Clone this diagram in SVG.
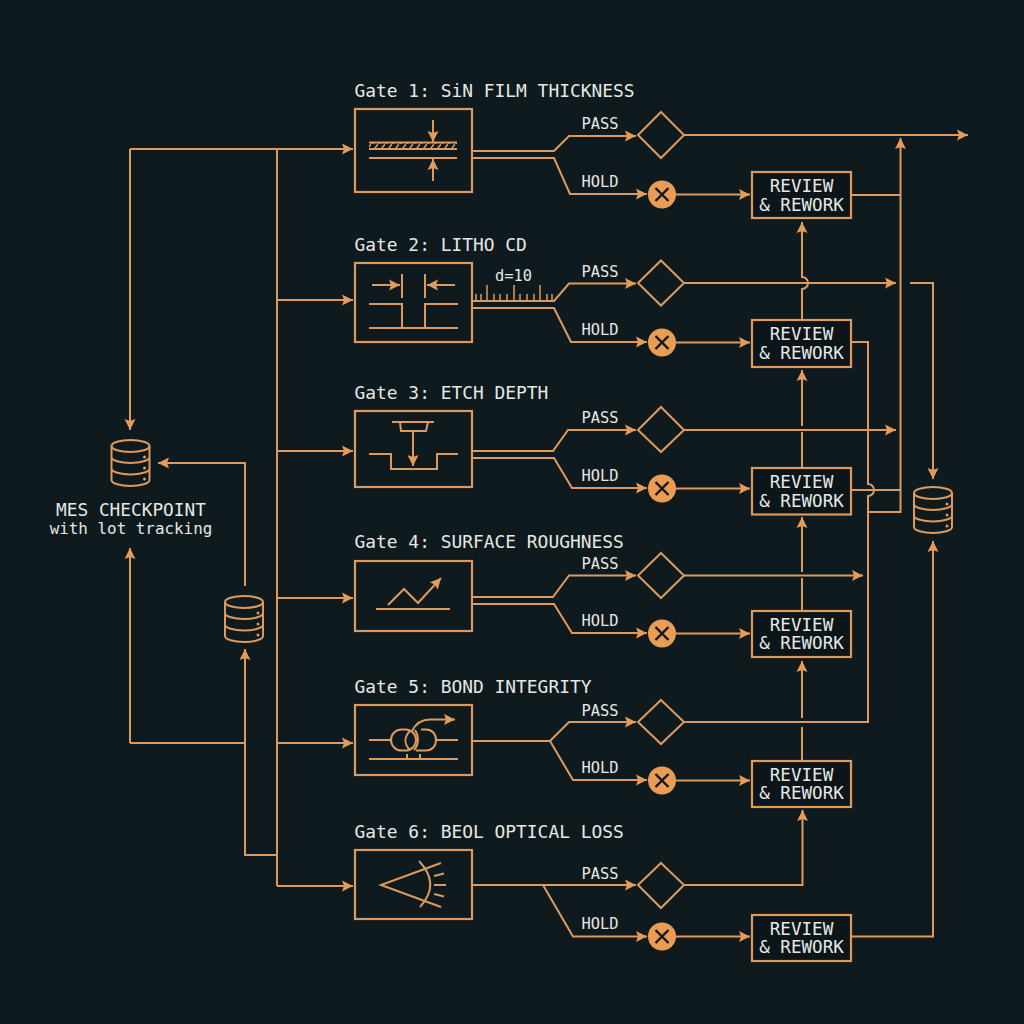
<svg xmlns="http://www.w3.org/2000/svg" width="1024" height="1024" viewBox="0 0 1024 1024">
<style>
.l{fill:none;stroke:#dd9a5c;stroke-width:2;stroke-linejoin:miter}
.i{fill:none;stroke:#dd9a5c;stroke-width:2}
.t{font-family:"DejaVu Sans Mono","Liberation Mono",monospace;fill:#e6e8e4}
.g{font-size:17.9px}
.p{font-size:15.4px}
.r{font-size:17.6px;text-anchor:middle}
.box{fill:none;stroke:#dd9a5c;stroke-width:2.2}
.rev{fill:#0c1519;stroke:#dd9a5c;stroke-width:2.2}
.dia{fill:none;stroke:#dd9a5c;stroke-width:2}
.x{stroke:#0f1a1e;stroke-width:2.4;fill:none}
.a{marker-end:url(#ah)}
</style>
<defs>
<marker id="ah" markerUnits="userSpaceOnUse" markerWidth="12" markerHeight="12" refX="11" refY="6" orient="auto"><path d="M0 .5L11 6L0 11.500L2 6Z" fill="#e49c58"/></marker>
<pattern id="hatch" patternUnits="userSpaceOnUse" width="7" height="8"><path d="M7.500 -.5L0.500 8.500" stroke="#dd9a5c" stroke-width="1.500"/></pattern>
<g id="db">
<ellipse cx="0" cy="-17" rx="19" ry="6" class="i"/>
<path class="i" d="M-19 -17V17C-19 20.500 -10 23 0 23S19 20.500 19 17V-17M-19 -6C-19 -2.500 -10 0 0 0S19 -2.500 19 -6M-19 5.500C-19 9 -10 11.500 0 11.500S19 9 19 5.500"/>
<circle cx="14" cy="-6" r="1.500" fill="#dd9a5c"/><circle cx="14" cy="5" r="1.500" fill="#dd9a5c"/><circle cx="14" cy="16" r="1.500" fill="#dd9a5c"/>
</g>
<g id="xc">
<circle r="14" fill="#e89c54"/><path class="x" d="M-6.500 -6.500L6.500 6.500M6.500 -6.500L-6.500 6.500"/>
</g>
</defs>
<rect width="1024" height="1024" fill="#0f1a1e"/>

<g id="connectors">
<path class="l a" d="M130 149H353"/>
<path class="l a" d="M130 149V430"/>
<path class="l" d="M277 149V886"/>
<path class="l a" d="M277 300H353"/>
<path class="l a" d="M277 451H353"/>
<path class="l a" d="M277 598H353"/>
<path class="l a" d="M277 743H353"/>
<path class="l a" d="M277 886H353"/>
<path class="l a" d="M130 743V548"/>
<path class="l" d="M130 743H245"/>
<path class="l a" d="M277 855H245V649"/>
<path class="l a" d="M245 586V463H158"/>
<path class="l a" d="M472 151H554L569 136H636"/>
<path class="l a" d="M472 158H554L570 194H647"/>
<path class="l a" d="M472 301H554L569 283.500H636"/>
<path class="l a" d="M472 308H554L571 342H647"/>
<path class="l a" d="M472 451H553L568 430H636"/>
<path class="l a" d="M472 458H554L572 488H647"/>
<path class="l a" d="M472 597H553L569 575.500H636"/>
<path class="l a" d="M472 604H554L572 633H647"/>
<path class="l a" d="M472 741H550L569 722H636"/>
<path class="l a" d="M550 741L573 780H647"/>
<path class="l a" d="M472 885H636"/>
<path class="l a" d="M543 885L573 936.500H647"/>
<path class="i" style="stroke-width:1.500" d="M476 301V294M481 301V294M487 301V285M494 301V294M500 301V294M507 301V294M514 301V285M520 301V294M527 301V294M534 301V294M540 301V285M547 301V294M552 301V294"/>
<path class="l a" d="M676 194.500H750"/>
<path class="l a" d="M676 342.500H750"/>
<path class="l a" d="M676 488.500H750"/>
<path class="l a" d="M676 633.500H750"/>
<path class="l a" d="M676 780.500H750"/>
<path class="l a" d="M676 936.500H750"/>
<path class="l a" d="M684 135H968"/>
<path class="l a" d="M684 283H896"/>
<path class="l a" d="M910 283H933V479"/>
<path class="l a" d="M684 430H896"/>
<path class="l a" d="M684 575.500H863"/>
<path class="l" d="M684 722H868V496A6 6 0 0 0 868 484V342H852"/>
<path class="l a" d="M684 885H802.500V810"/>
<path class="l a" d="M802 320V289A6 6 0 0 0 802 277V222"/>
<path class="l a" d="M802 468V432M802 426V370"/>
<path class="l a" d="M802 611V578M802 572V517"/>
<path class="l a" d="M802 761V727M802 718V661"/>
<path class="l" d="M852 195H900"/>
<path class="l" d="M852 490H900"/>
<path class="l a" d="M868 512H900.500V138"/>
<path class="l a" d="M852 936.500H933V541"/>
<text class="t p" x="581.500" y="129">PASS</text><text class="t p" x="581.500" y="187">HOLD</text>
<text class="t p" x="581.500" y="277">PASS</text><text class="t p" x="581.500" y="335">HOLD</text>
<text class="t p" x="581.500" y="423">PASS</text><text class="t p" x="581.500" y="481">HOLD</text>
<text class="t p" x="581.500" y="569">PASS</text><text class="t p" x="581.500" y="626">HOLD</text>
<text class="t p" x="581.500" y="716">PASS</text><text class="t p" x="581.500" y="773">HOLD</text>
<text class="t p" x="581.500" y="879">PASS</text><text class="t p" x="581.500" y="929">HOLD</text>
<text class="t" style="font-size:15.400px" x="495" y="281">d=10</text>
</g>

<g id="gate1">
<text class="t g" x="354.500" y="97">Gate 1: SiN FILM THICKNESS</text>
<rect class="box" x="355" y="109" width="117" height="83"/>
<rect x="369" y="142" width="88" height="7" fill="url(#hatch)"/>
<path class="i" d="M369 142.500H457M369 149H457M369 158H457"/>
<path class="i a" d="M433 120V142"/>
<path class="i a" d="M433 181V159"/>
</g>
<g id="gate2">
<text class="t g" x="354.500" y="251">Gate 2: LITHO CD</text>
<rect class="box" x="355" y="263" width="117" height="79"/>
<path class="i a" d="M372 285H400"/>
<path class="i a" d="M455 285H427"/>
<path class="i" d="M402 274V298M425 274V298M369 304H402V328M458 304H425V328M369 328H458"/>
</g>
<g id="gate3">
<text class="t g" x="354.500" y="399">Gate 3: ETCH DEPTH</text>
<rect class="box" x="355" y="411" width="117" height="76"/>
<path class="i" d="M392 422H434M400 422L401 431H426L428 422M369 454H391V469H437V454H458"/>
<path class="i a" d="M413 431V466"/>
</g>
<g id="gate4">
<text class="t g" x="354.500" y="548">Gate 4: SURFACE ROUGHNESS</text>
<rect class="box" x="355" y="561" width="117" height="70"/>
<path class="i" d="M376 609H450"/>
<path class="i a" d="M388 605L404 589L418 603L441 578"/>
</g>
<g id="gate5">
<text class="t g" x="354.500" y="693">Gate 5: BOND INTEGRITY</text>
<rect class="box" x="355" y="705" width="117" height="70"/>
<path class="i" d="M369 740H391M436 740H458M369 759H458M407 754V759M420 754V759"/>
<rect class="i" x="391" y="729.500" width="25" height="21" rx="10.500"/>
<path class="i" d="M410 731C404 737 404 744 410 750M421 729.500H426C432 729.500 436 734 436 740C436 746 432 750.500 426 750.500H416"/>
<path class="i" d="M415 730C419 736 419 745 414 750"/>
<path class="i a" d="M412 731C416 723 422 719.500 430 719.500H455"/>
</g>
<g id="gate6">
<text class="t g" x="354.500" y="838">Gate 6: BEOL OPTICAL LOSS</text>
<rect class="box" x="355" y="850" width="117" height="69"/>
<path class="i" d="M441 863L381 885L441 907M419 861Q441 884 420 907M434 876L444 873.500M434 885H446M434 894L444 896.500"/>
</g>

<g id="diamonds">
<path id="pass1" class="dia" d="M661 112L684 135L661 158L638 135Z"/>
<path id="pass2" class="dia" d="M661 260.500L684 283L661 305.500L638 283Z"/>
<path id="pass3" class="dia" d="M661 407L684 430L661 452L638 430Z"/>
<path id="pass4" class="dia" d="M661 553L684 575.500L661 598L638 575.500Z"/>
<path id="pass5" class="dia" d="M661 700L684 722L661 744L638 722Z"/>
<path id="pass6" class="dia" d="M661 863L684 885L661 908L638 885Z"/>
</g>
<g id="holds">
<use href="#xc" x="662" y="194.500"/>
<use href="#xc" x="662" y="342.500"/>
<use href="#xc" x="662" y="488.500"/>
<use href="#xc" x="662" y="633.500"/>
<use href="#xc" x="662" y="780.500"/>
<use href="#xc" x="662" y="936.500"/>
</g>

<g id="review1"><rect class="rev" x="752" y="172" width="99" height="46"/><text class="t r" x="801.500" y="192">REVIEW</text><text class="t r" x="801.500" y="211">&amp; REWORK</text></g>
<g id="review2"><rect class="rev" x="752" y="320" width="99" height="47"/><text class="t r" x="801.500" y="340">REVIEW</text><text class="t r" x="801.500" y="359">&amp; REWORK</text></g>
<g id="review3"><rect class="rev" x="752" y="468" width="99" height="46.500"/><text class="t r" x="801.500" y="488">REVIEW</text><text class="t r" x="801.500" y="507">&amp; REWORK</text></g>
<g id="review4"><rect class="rev" x="752" y="611" width="99" height="46"/><text class="t r" x="801.500" y="631">REVIEW</text><text class="t r" x="801.500" y="649">&amp; REWORK</text></g>
<g id="review5"><rect class="rev" x="752" y="761" width="99" height="46"/><text class="t r" x="801.500" y="781">REVIEW</text><text class="t r" x="801.500" y="799">&amp; REWORK</text></g>
<g id="review6"><rect class="rev" x="752" y="915" width="99" height="46"/><text class="t r" x="801.500" y="935">REVIEW</text><text class="t r" x="801.500" y="953">&amp; REWORK</text></g>

<g id="mes-db"><use href="#db" x="130.500" y="463"/>
<text class="t" style="font-size:17.800px;text-anchor:middle" x="131" y="516">MES CHECKPOINT</text>
<text class="t" style="font-size:15.900px;text-anchor:middle" x="131" y="534">with lot tracking</text></g>
<g id="mid-db"><use href="#db" x="244" y="619"/></g>
<g id="out-db"><use href="#db" x="933" y="510"/></g>
</svg>
